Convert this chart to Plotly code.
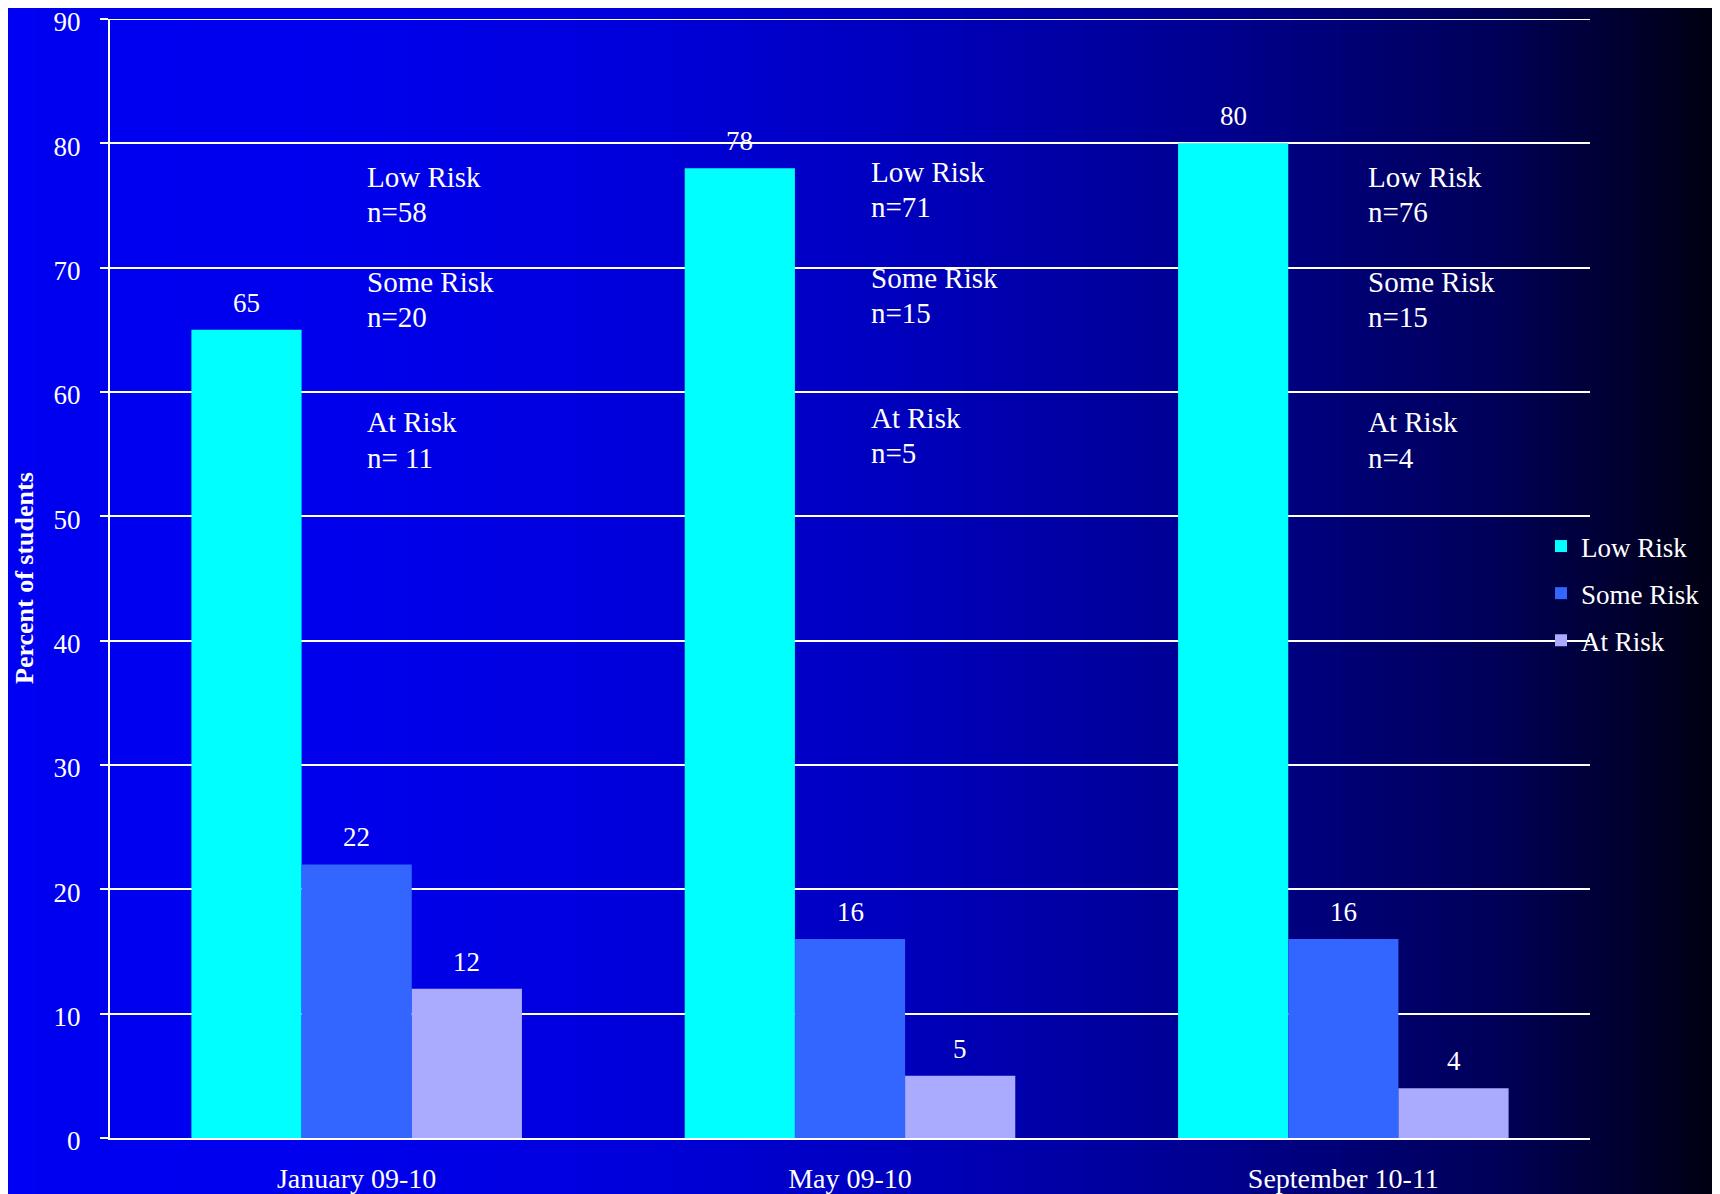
import plotly.graph_objects as go

# ---- data ----
categories = ["January 09-10", "May 09-10", "September 10-11"]
series_names = ["Low Risk", "Some Risk", "At Risk"]
low_risk = [65, 78, 80]
some_risk = [22, 16, 16]
at_risk = [12, 5, 4]
low_n = ["n=58", "n=71", "n=76"]
some_n = ["n=20", "n=15", "n=15"]
at_n = ["n= 11", "n=5", "n=4"]
y_ticks = [0, 10, 20, 30, 40, 50, 60, 70, 80, 90]
y_title = "Percent of students"

colors = ["#00FFFF", "#3366FF", "#AAAAFF"]
FONT = "Liberation Serif, Times New Roman, serif"
OFF = 8                      # page body margin offset
W, H = 1720 - OFF, 1194 - OFF


def px(x):  # reference x pixel -> paper
    return (x - OFF) / W


def py(y):  # reference y pixel -> paper
    return 1 - (y - OFF) / H


fig = go.Figure()
series = [low_risk, some_risk, at_risk]
for name, vals, col in zip(series_names, series, colors):
    fig.add_trace(go.Bar(name=name, x=categories, y=vals, marker=dict(color=col, line=dict(width=0)),
                         legendgroup=name))

# gradient background (horizontal), drawn as thin strips
stops = [(0.0, 242), (0.175, 238), (0.35, 222), (0.52, 190), (0.70, 145), (0.87, 88), (1.0, 15)]


def blue_at(f):
    for (f0, b0), (f1, b1) in zip(stops[:-1], stops[1:]):
        if f0 <= f <= f1:
            t = (f - f0) / (f1 - f0)
            return b0 + t * (b1 - b0)
    return stops[-1][1]


shapes = []
n_strips = 172
for k in range(n_strips):
    x0 = k / n_strips
    x1 = (k + 1) / n_strips
    b = int(round(blue_at((x0 * W + OFF + x1 * W + OFF) / 2 / 1720)))
    shapes.append(dict(type="rect", xref="paper", yref="paper", x0=x0, x1=x1 + 0.002, y0=0, y1=1,
                       fillcolor=f"rgb(0,0,{b})", line=dict(width=0), layer="below"))

# top gridline (plotly omits the gridline at the range edge)
shapes.append(dict(type="line", xref="paper", yref="y", x0=px(102), x1=px(1590),
                   y0=max(y_ticks), y1=max(y_ticks), line=dict(color="white", width=2), layer="below"))

annotations = []
# value labels above bars
bargap = 0.33
bw = (1 - bargap) / 3
for j, vals in enumerate(series):
    for i, v in enumerate(vals):
        annotations.append(dict(x=i + (j - 1) * bw, y=v, xref="x", yref="y", text=str(v),
                                showarrow=False, yanchor="middle", yshift=27,
                                font=dict(family=FONT, size=27, color="white")))

# text boxes with counts (one annotation per line)
box_x = [365, 869, 1366]
line_y = [176.6, 211.7, 281.9, 317.0, 422.3, 457.5]
box_dy = [0, -4.4, 0]
for i in range(3):
    lines = [series_names[0], low_n[i], series_names[1], some_n[i], series_names[2], at_n[i]]
    for t, yy in zip(lines, line_y):
        annotations.append(dict(x=px(box_x[i]), y=py(yy + box_dy[i]), xref="paper", yref="paper",
                                text=t, showarrow=False, xanchor="left", yanchor="middle",
                                font=dict(family=FONT, size=29, color="white")))

# y axis title
annotations.append(dict(x=px(24), y=py(578), xref="paper", yref="paper",
                        text=f"<b>{y_title}</b>", textangle=-90, showarrow=False,
                        xanchor="center", yanchor="middle",
                        font=dict(family=FONT, size=26, color="white")))

fig.update_layout(
    width=W, height=H,
    margin=dict(l=0, r=0, t=0, b=0),
    paper_bgcolor="#0000F0",
    plot_bgcolor="rgba(0,0,0,0)",
    barmode="group",
    bargap=bargap,
    bargroupgap=0,
    font=dict(family=FONT, color="white", size=26),
    shapes=shapes,
    annotations=annotations,
    showlegend=True,
    legend=dict(x=px(1541), y=py(522), xanchor="left", yanchor="top",
                bgcolor="rgba(0,0,0,0)", font=dict(family=FONT, size=27, color="white"),
                tracegroupgap=9, traceorder="grouped"),
    xaxis=dict(domain=[px(110), px(1590)], showgrid=False, showline=True, linecolor="white",
               linewidth=2, ticks="", tickfont=dict(family=FONT, size=28, color="white"),
               ticklabelstandoff=14, automargin=False, ticklabeloverflow="allow"),
    yaxis=dict(domain=[py(1138), py(19)], range=[0, 90], tickvals=y_ticks,
               showgrid=True, gridcolor="white", gridwidth=2, showline=True, linecolor="white",
               linewidth=2, ticks="outside", ticklen=8, tickcolor="white", tickwidth=2,
               zeroline=False, tickfont=dict(family=FONT, size=27, color="white"),
               ticklabelstandoff=14, ticklabelshift=3, automargin=False,
               ticklabeloverflow="allow"),
)

fig.write_html("out.html")
